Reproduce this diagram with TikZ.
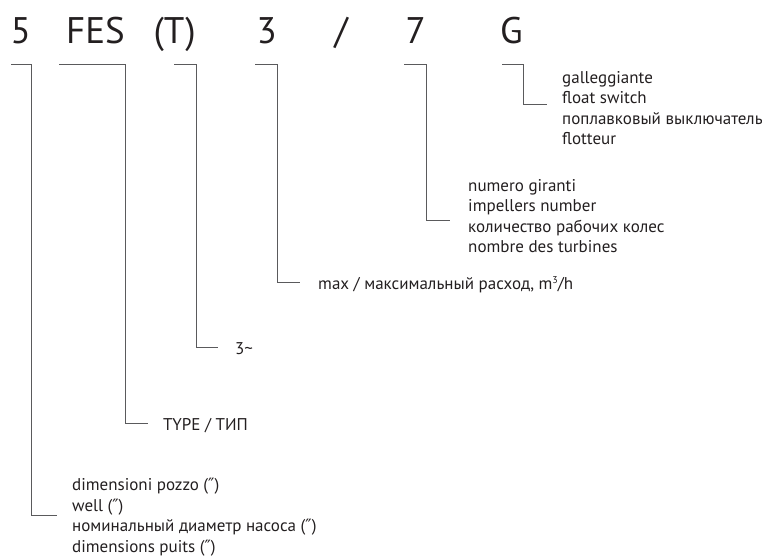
\documentclass[tikz,border=0pt]{standalone}
\usepackage{fontspec}
\setmainfont{PT Sans}
\newfontfamily\primefont{DejaVu Sans}
\newcommand{\inch}{{\primefont ″}}
\definecolor{ink}{HTML}{231F20}
\definecolor{rule}{HTML}{5A5A5C}
\tikzset{
  code/.style={font=\fontsize{37}{40}\selectfont, text=ink, inner sep=0pt, anchor=base east},
  lbl/.style={font=\fontsize{17}{20.5}\selectfont, text=ink, inner sep=0pt, anchor=west, align=left},
  leader/.style={draw=rule, line width=0.8pt},
}

\begin{document}
\begin{tikzpicture}[x=1pt,y=1pt]
    \useasboundingbox (0,0) rectangle (762,-558);
    % code
    \node[code] (c5) at (31,-43) {5};
    \node[code] (cfes) at (125,-43) {FES};
    \node[code] (ct) at (196,-43) {(T)};
    \node[code] (cq) at (277,-43) {3};
    \node[code] (cslash) at (348,-43) {/};
    \node[code] (cimp) at (426,-43) {7};
    \node[code] (cg) at (523,-43) {G};
    % descriptions
    \node[lbl] (gal) at (562,-108) {galleggiante\\float switch\\поплавковый выключатель\\flotteur};
    \node[lbl] (num) at (468,-216) {numero giranti\\impellers number\\количество рабочих колес\\nombre des turbines};
    \node[lbl] (flow) at (318,-285) {max / максимальный расход, m\raisebox{6pt}{\fontsize{10}{10}\selectfont 3}/h};
    \node[lbl] (three) at (235,-349) {3\textasciitilde};
    \node[lbl] (type) at (163,-426) {TYPE / ТИП};
    \node[lbl] (dim) at (72,-517) {dimensioni pozzo (\inch)\\well (\inch)\\номинальный диаметр насоса (\inch)\\dimensions puits (\inch)};
    % leaders
    \coordinate (s5) at (11,-64);
    \coordinate (sfes) at (59,-64);
    \coordinate (st) at (174,-64);
    \coordinate (sq) at (255,-64);
    \coordinate (simp) at (404,-64);
    \coordinate (sg) at (502,-64);
    \draw[leader] (s5) -- (s5 -| c5.east) |- ([xshift=-15pt,yshift=2pt]dim.west);
    \draw[leader] (sfes) -- (sfes -| cfes.east) |- ([xshift=-15pt,yshift=3pt]type.west);
    \draw[leader] (st) -- (st -| ct.east) |- ([xshift=-17pt,yshift=2pt]three.west);
    \draw[leader] (sq) -- (sq -| cq.east) |- ([xshift=-18pt,yshift=3pt]flow.west);
    \draw[leader] (simp) -- (simp -| cimp.east) |- ([xshift=-18pt,yshift=-4pt]num.west);
    \draw[leader] (sg) -- (sg -| cg.east) |- ([xshift=-15pt,yshift=4pt]gal.west);
\end{tikzpicture}
\end{document}
